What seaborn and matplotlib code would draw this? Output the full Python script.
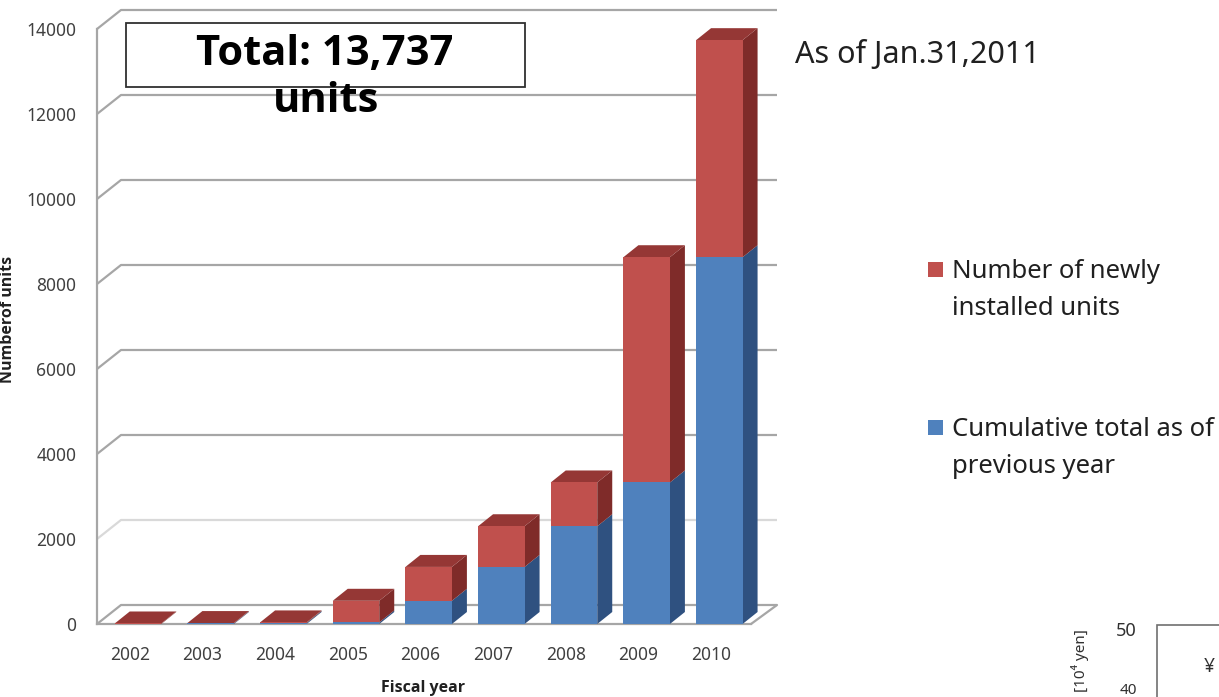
import numpy as np
import pandas as pd
import seaborn as sns
import matplotlib.pyplot as plt
from matplotlib.patches import Polygon, Rectangle
from matplotlib.transforms import ScaledTranslation
from matplotlib import font_manager

# ---------------- data ----------------
years = ["2002", "2003", "2004", "2005", "2006", "2007", "2008", "2009", "2010"]
new_units = [12, 10, 15, 509, 797, 957, 1030, 5300, 5107]
prev_cumulative = [0, 12, 22, 37, 546, 1343, 2300, 3330, 8630]
y_ticks = [0, 2000, 4000, 6000, 8000, 10000, 12000, 14000]
legend_labels = [["Number of newly", "installed units"],
                 ["Cumulative total as of", "previous year"]]

RED = "#c0504d"
RED_SIDE = "#7f2b29"
RED_TOP = "#953735"
BLUE = "#4f81bd"
BLUE_SIDE = "#2f5180"
GRID = "#a6a6a6"

sns.set_theme(style="white")
plt.rcParams['font.family'] = ['Noto Sans', 'DejaVu Sans']

# pick a family that really has a bold face
bold_family = "DejaVu Sans"
for fam in ["Open Sans", "Noto Sans", "Lato", "Roboto"]:
    try:
        path = font_manager.findfont(font_manager.FontProperties(family=fam, weight="bold"),
                                     fallback_to_default=False)
        if "bold" in path.lower() or "black" in path.lower():
            bold_family = fam
            break
    except Exception:
        pass

W, H = 1219, 697
fig = plt.figure(figsize=(W / 100, H / 100), dpi=100)
fig.patch.set_facecolor("white")

def fx(px):
    return px / W

def fy(py):
    return 1 - py / H

ax = fig.add_axes([fx(97), fy(624), (751 - 97) / W, (624 - 29) / H])
ax.set_facecolor("none")

totals = [n + p for n, p in zip(new_units, prev_cumulative)]
df = pd.DataFrame({"year": years, "total": totals, "prev": prev_cumulative})

sns.barplot(data=df, x="year", y="total", color=RED, saturation=1, width=0.64,
            errorbar=None, ax=ax, zorder=3, linewidth=0)
sns.barplot(data=df, x="year", y="prev", color=BLUE, saturation=1, width=0.64,
            errorbar=None, ax=ax, zorder=3, linewidth=0)

xl, xr = -0.564, 8.436
ax.set_xlim(xl, xr)
ax.set_ylim(0, 14000)

# pixel -> data conversion
p0 = ax.transData.transform((0, 0))
p1 = ax.transData.transform((1, 1000))
px_x = p1[0] - p0[0]
px_y = (p1[1] - p0[1]) / 1000.0

bdx, bdy = 15 / px_x, 12 / px_y       # bar depth
wdx, wdy = 24 / px_x, 19 / px_y       # wall depth
x_back_right = xl + (777 - 97) / px_x

# back wall gridlines with left diagonals
for v in y_ticks:
    col = "#d9d9d9" if v == 2000 else GRID
    ax.plot([xl, xl + wdx, x_back_right], [v, v + wdy, v + wdy],
            color=col, lw=1.6, clip_on=False, zorder=0.5, solid_capstyle="butt")
ax.plot([xr, x_back_right], [0, wdy], color=GRID, lw=1.6, clip_on=False, zorder=0.5)

# 3D faces of bars
red_patches = ax.patches[:len(years)]
for i, patch in enumerate(red_patches):
    x0 = patch.get_x()
    x1 = x0 + patch.get_width()
    t = totals[i]
    p = prev_cumulative[i]
    faces = [
        ([(x1, 0), (x1, p), (x1 + bdx, p + bdy), (x1 + bdx, bdy)], BLUE_SIDE),
        ([(x1, p), (x1, t), (x1 + bdx, t + bdy), (x1 + bdx, p + bdy)], RED_SIDE),
        ([(x0, t), (x1, t), (x1 + bdx, t + bdy), (x0 + bdx, t + bdy)], RED_TOP),
    ]
    for verts, c in faces:
        ax.add_patch(Polygon(verts, closed=True, facecolor=c, edgecolor="none",
                             clip_on=False, zorder=2.9))

for s in ["top", "right"]:
    ax.spines[s].set_visible(False)
for s in ["left", "bottom"]:
    ax.spines[s].set_color(GRID)
    ax.spines[s].set_linewidth(1.6)
ax.set_yticks(y_ticks)
ax.set_yticklabels([str(v) for v in y_ticks])
ax.tick_params(axis="both", length=0, labelsize=12.5, labelcolor="#404040")
ax.tick_params(axis="y", pad=15)
ax.tick_params(axis="x", pad=16)
for lab in ax.get_xticklabels():
    lab.set_transform(lab.get_transform() + ScaledTranslation(-6 / 72, 0, fig.dpi_scale_trans))
ax.set_xlabel("")
ax.set_ylabel("")

fig.text(fx(423), fy(688), "Fiscal year", ha="center", va="center",
         fontsize=11.5, fontweight="bold", family=bold_family, color="#202020")
fig.text(fx(8), fy(319), "Numberof units", ha="center", va="center", rotation=90,
         fontsize=11.5, fontweight="bold", family=bold_family, color="#202020")

# total box
fig.patches.append(Rectangle((fx(126), fy(87)), (525 - 126) / W, (87 - 23) / H,
                             transform=fig.transFigure, facecolor="white",
                             edgecolor="#303030", lw=1.3, zorder=5))
fig.text(fx(325), fy(65), "Total: 13,737", ha="center", va="baseline",
         fontsize=30, fontweight="bold", family=bold_family, color="black", zorder=6)
fig.text(fx(326), fy(112), "units", ha="center", va="baseline",
         fontsize=30, fontweight="bold", family=bold_family, color="black", zorder=6)

fig.text(fx(795), fy(63), "As of Jan.31,2011", ha="left", va="baseline",
         fontsize=22, color="#202020")

# legend
leg_colors = [RED, BLUE]
leg_base = [278, 436]
for lines, c, b in zip(legend_labels, leg_colors, leg_base):
    fig.patches.append(Rectangle((fx(928), fy(b - 1)), 15 / W, 15 / H,
                                 transform=fig.transFigure, facecolor=c,
                                 edgecolor="none"))
    fig.text(fx(952), fy(b), lines[0], ha="left", va="baseline",
             fontsize=18.5, color="#202020")
    fig.text(fx(952), fy(b + 37), lines[1], ha="left", va="baseline",
             fontsize=18.5, color="#202020")

# fragment of neighbouring chart (bottom right)
fig.text(fx(1137), fy(636), "50", ha="right", va="baseline", fontsize=13, color="#303030")
fig.text(fx(1137), fy(694), "40", ha="right", va="baseline", fontsize=11, color="#303030")
fig.text(fx(1080), fy(629), "[10⁴ yen]", ha="center", va="top", rotation=90,
         fontsize=11, color="#303030")
fig.patches.append(Rectangle((fx(1157), fy(760)), 200 / W, (760 - 625) / H,
                             transform=fig.transFigure, facecolor="white",
                             edgecolor="#707070", lw=1.2))
fig.text(fx(1215), fy(667), "¥", ha="right", va="center", fontsize=14, color="#303030")

fig.savefig("out.png", dpi=100)
